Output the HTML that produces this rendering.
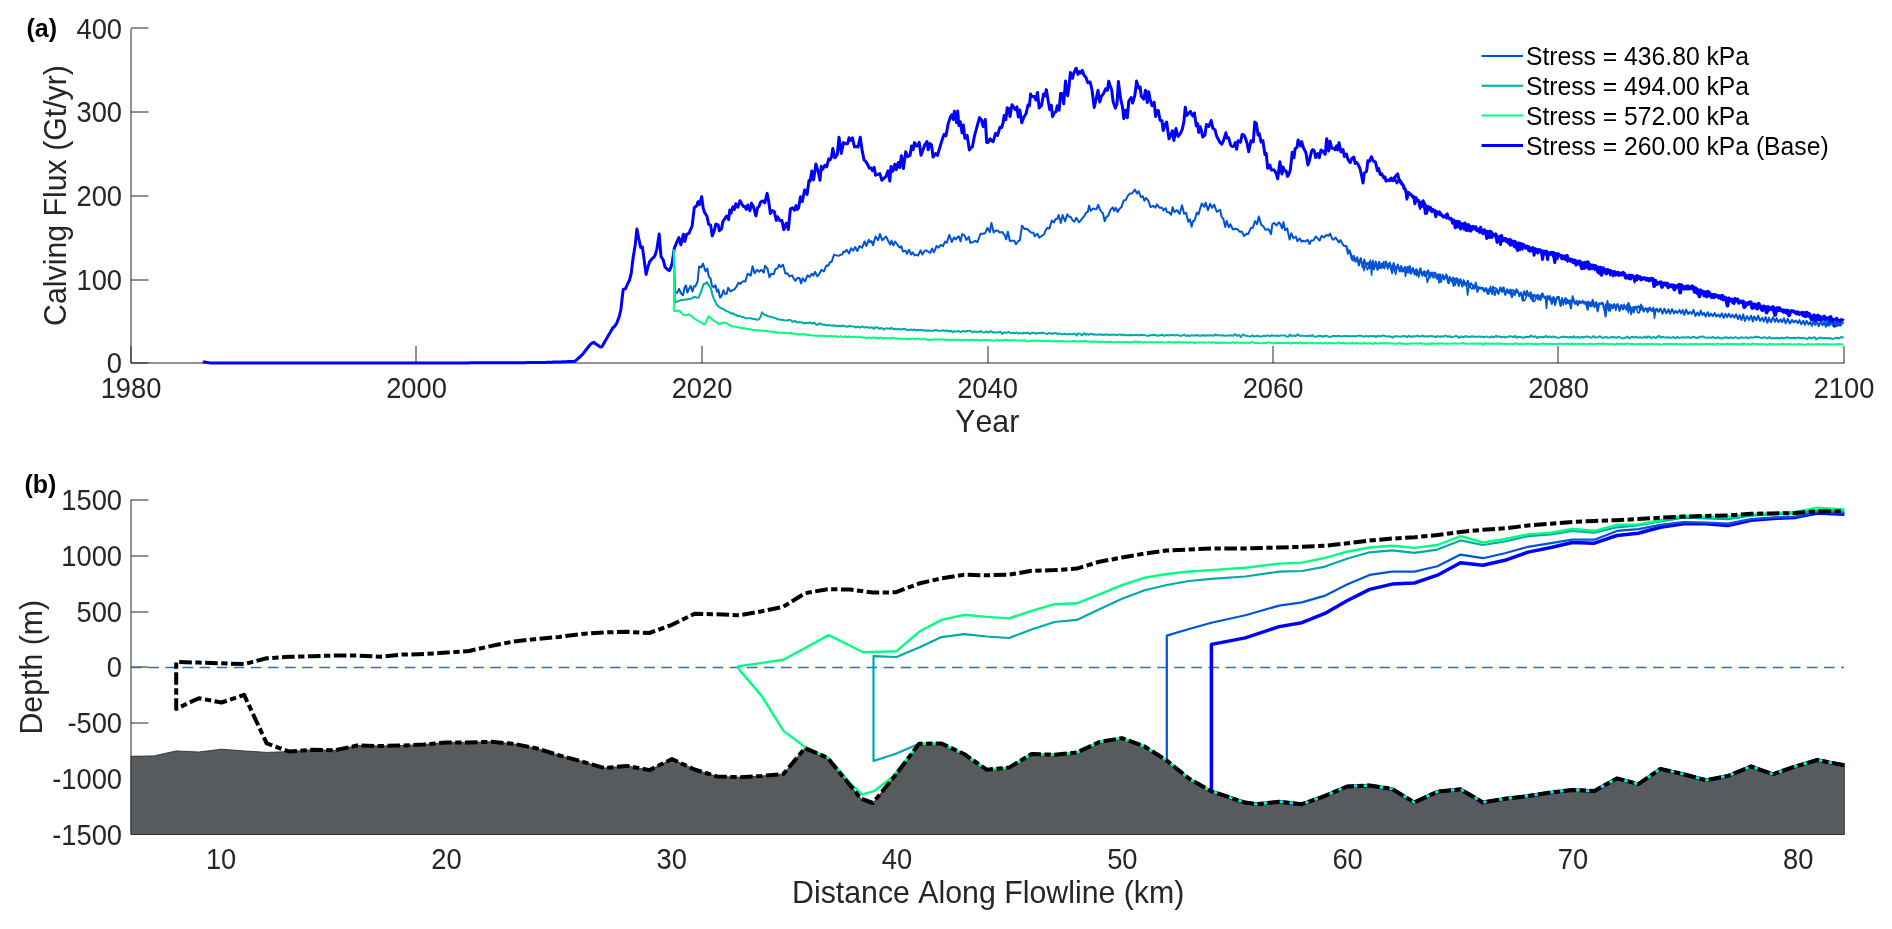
<!DOCTYPE html>
<html><head><meta charset="utf-8"><title>Calving flux figure</title>
<style>html,body{margin:0;padding:0;background:#fff;}svg{display:block;will-change:transform;}</style>
</head><body>
<svg width="1892" height="929" viewBox="0 0 1892 929">
<rect width="1892" height="929" fill="#ffffff"/>
<g stroke="#262626" stroke-width="1" fill="none">
<path d="M131 363V28.5"/>
<path d="M131 363H1844.5"/>
<path d="M131 363H148.5"/>
<path d="M131 280H148.5"/>
<path d="M131 196H148.5"/>
<path d="M131 112H148.5"/>
<path d="M131 28H148.5"/>
<path d="M131 363V346"/>
<path d="M416 363V346"/>
<path d="M702 363V346"/>
<path d="M988 363V346"/>
<path d="M1273 363V346"/>
<path d="M1558 363V346"/>
<path d="M1844 363V346"/>
</g>
<path d="M202.7 361.9L204.7 362.1L207.2 362.4L209.1 362.7L211.1 362.9L213.2 363L214.7 363L216.7 363L218.8 363L221.1 363L222.5 363L224.2 363L225.6 363L228 363L230.2 363L231.6 363L234.1 363L236.7 363L238.8 363L240.9 363L242.4 363L243.8 363L245.7 363L247.1 363L248.7 363L250.3 363L251.6 363L253.5 363L255.4 363L257.8 363L259.8 363L261.9 363L263.9 363L266 363L267.9 363L269.6 363L272.2 363L274.8 363L277.2 363L279.4 363L281.1 363L282.7 363L284.4 363L285.8 363L288 363L289.9 363L292.3 363L294.1 363L296.6 363L299 363L300.3 363L301.9 363L304.4 363L306.3 363.1L308.9 363.1L310.7 363.1L312.1 363.1L314.2 363.1L316.5 363.1L318.2 363.1L319.6 363.1L321.3 363.1L323.9 363.1L326.1 363.1L327.6 363.1L329.2 363.1L330.6 363.1L332 363.1L334.4 363.1L335.9 363.1L337.9 363.1L339.8 363.1L341.3 363.1L343.6 363.1L345.1 363.1L347.2 363.1L348.7 363.1L350.5 363.1L352.1 363.1L353.7 363.1L356.3 363.1L358.6 363.1L360.3 363.1L362.8 363.1L364.4 363.1L366.2 363.1L368.6 363.1L370.7 363.1L372.1 363.1L374.7 363.1L376.3 363.1L377.9 363.1L380.2 363.1L382 363.1L383.7 363.1L385.1 363.1L386.5 363.1L388.5 363.1L390.1 363.1L392.2 363.1L394 363.1L395.9 363.1L398.4 363.1L400.4 363.1L402.4 363.1L404.8 363.1L406.4 363.1L407.9 363.1L410.4 363.1L412.7 363.1L414.4 363L415.9 363L418.2 363L420.7 363L422.2 363L424.8 363L427.2 363L429.3 363L431.2 363L432.6 363L433.9 363L436.5 363L438.1 363L440.3 363L442 363L444.3 362.9L446.4 362.9L448.1 362.9L449.6 362.9L451.8 362.9L453.2 362.9L454.8 362.9L456.9 362.9L459.3 362.9L461.4 362.9L463 362.9L465.5 362.9L467.1 362.9L468.4 362.9L470.1 362.8L471.9 362.8L473.3 362.8L474.8 362.8L476.6 362.8L478.7 362.8L480.1 362.8L481.9 362.8L484.4 362.8L486.9 362.8L489.1 362.8L491.3 362.8L493.4 362.8L494.8 362.8L496.2 362.8L497.5 362.8L500 362.7L502.2 362.7L504.8 362.7L506.1 362.7L508.2 362.7L510.1 362.7L512.4 362.7L514.1 362.7L516.7 362.7L518.1 362.7L520.1 362.7L522.4 362.7L524.8 362.7L527.1 362.6L529.3 362.6L531.6 362.6L534.1 362.6L535.9 362.6L538.1 362.6L540.5 362.6L543 362.5L544.8 362.4L547.2 362.3L549.6 362.3L551.6 362.2L553.7 362.1L555.5 362.1L557.6 362L559.7 361.9L561.1 361.9L563.2 361.8L565.8 361.7L568.2 361.6L570.5 361.5L572.3 361.5L574.6 361.4L576.6 359.8L578.5 358.1L580.9 356L582.3 354.6L584.6 351.7L585.9 350L588 347.3L589.9 345L591.5 343.4L593.7 342.2L595.7 343.7L597.8 345.2L600.3 347L601.9 346.8L603.2 344.5L604.9 341.6L607.1 337.8L608.6 335.1L610.2 332.5L612.6 328.2L614.8 326.1L616.7 323.3L619.1 317L620.8 310L623.2 289.4L625.6 288.7L627.1 284.9L629.5 280.2L631.2 273.4L633.1 257.7L635.2 245.3L636.9 229L638.3 236.3L640.7 247.5L642.4 247.1L643.7 256.6L646.1 274.4L647.6 268.1L649.7 261.5L652.1 258.7L654 257.1L655.3 254.7L656.9 249.1L659.2 234.1L661 256.5L663.4 260.3L664.9 266.7L667 269.1L669.5 270.6L672 264.3L674.2 248.7L676.4 243.1L678.9 237.6L680.9 244.8L683.4 234.2L684.8 241.4L686.7 234.1L689 233.3L690.8 229L692.1 226L694.3 207.6L696.6 206L698 201.7L699.5 204.7L701.7 196.6L703.2 208.1L704.5 212.4L706.9 216L708.7 224.5L710.6 224.9L712.2 235.9L714 231.6L715.8 224.1L718.2 225L719.4 230.7L721.6 228.7L722.9 221.5L725.2 218.2L726.6 216.1L728.6 219.6L729.8 210L731.1 213.2L732.9 206.8L734.5 209.5L735.8 203.8L737.8 207.3L740 200.7L742 204.3L743.5 206.5L744.9 206.5L746.3 209.4L747.8 205L749.9 210.7L751.5 203.1L753.5 206.8L755.9 215.9L757.6 207.4L759 206.5L760.8 201.8L762.6 200.9L764.8 202.8L767.1 193.4L768.8 202.1L770.4 213.5L772.2 210.6L774.2 211.4L776.3 220.4L777.7 216.9L779.9 220.8L781.9 220.5L783.8 229.6L786.2 223.2L788.3 229.5L790.4 209L792.4 207.7L794.5 210.2L796.1 205.6L797.2 209.5L798.6 208L800.5 196.7L802.3 201.5L804.7 189.9L807.1 194.4L809 180.4L810.2 181.1L811.8 170.9L813.6 179.9L815.9 164.1L818.1 171.2L820 180.2L821.3 166.3L822.6 169.3L824.9 165.3L826.7 166.8L828.7 158.9L830.1 159.9L831.5 157L832.8 148.6L834.9 157.8L837.3 154.5L839 137.2L841.3 153.4L843.4 142.6L845.7 143.8L847.7 143.7L849 137.8L850.7 140.3L852.4 137.8L854.5 146.8L856.9 146.4L858.1 147L860.3 137.2L862.3 151.6L864.1 160.1L865.5 161.1L867.8 164.8L869.3 168.2L871.2 168L872.4 170.7L874.2 167.4L875.6 175.2L877.7 174.4L879.8 173.6L881.9 180.3L884.1 178.1L886 176.3L888.1 170.9L889.8 181.1L891 166.6L892.8 171.3L894.9 164.3L896.3 169.7L898.3 162.5L899.8 167.5L901.4 155.7L903.4 168.6L905.7 151.8L907.8 156.7L910.1 155.3L911.5 146.1L913.2 149.6L914.5 142.6L916.7 146.2L918 145L919.2 142.3L921 155.3L923.1 149.4L924.9 144.6L927 141.5L928.2 149.7L930.1 143.6L931.5 144.9L933.1 157.1L935.5 153.6L937.5 155.4L939.8 147.5L942 140.3L944.2 134.3L946 135.8L948.1 124.1L950.2 117.6L951.8 114.8L953.3 119.5L954.4 111.3L956.6 122.6L957.7 111L958.9 125.6L960.2 121.6L962.1 133.1L963.4 125.1L964.9 138.3L967.1 135.3L969.4 149.9L971.2 147.3L972.4 146.8L974.5 135.7L976 130.4L977.9 123.4L979.5 117.6L981.5 119.9L983.1 126.5L985.3 119.5L986.7 142.4L988 142.6L990.2 138.7L991.4 140.6L993.2 141.6L995.5 133.4L997.6 135.4L999.9 127.3L1001.7 127.5L1003 123.3L1004.2 115.6L1005.9 119.7L1007.2 107.8L1008.9 108.6L1010 116.6L1012 104.7L1013.1 106.4L1015.3 109.6L1016.9 106.9L1018.3 117L1019.8 109.9L1021.8 122.8L1023.9 117L1026 113.8L1028 105.1L1029.4 105.8L1030.6 93.9L1031.9 96.6L1034.2 96.4L1035.9 100L1037.5 92.4L1039.2 108L1041.6 105.2L1043.5 93.9L1045.1 95.8L1046.3 89.6L1048.5 102.7L1049.8 109.7L1051.3 105.2L1052.6 116.7L1054.6 112.3L1056 111.8L1057.2 105.8L1059.1 110.1L1060.6 93.5L1061.9 93.6L1063.7 103.8L1065.5 81L1067.7 95.8L1068.9 87.5L1070.4 72.5L1072.5 78.3L1073.7 73.3L1076.1 68.2L1078 74.4L1079.6 71.5L1081 73.1L1082.3 70.3L1084.1 75.5L1085.9 77.2L1087.9 82.8L1090.2 82L1092.1 90.5L1094.2 107.5L1096.4 97.8L1098 90.2L1099.8 102.1L1101.5 96.2L1103.5 93.6L1105.6 88.9L1107.4 90.3L1108.7 81.2L1109.9 85.1L1111.7 90.1L1113.1 101.5L1115.3 108.1L1117 103.8L1118.4 81.5L1119.6 91.3L1120.9 100.4L1122.3 105.9L1123.8 118.6L1125.4 110.2L1127.3 117.8L1128.8 101L1131.1 97.6L1132.6 103L1134.9 95.2L1136.6 81.1L1138.8 88.1L1140.2 87L1141.3 96.4L1143.6 99.1L1145.6 90.2L1147.3 102.5L1148.7 91.7L1150 98.8L1152 105.7L1154.2 102.2L1155.6 116.6L1157.1 111L1158.3 110.5L1160.1 120.2L1162 120.7L1163.2 130.6L1165.3 124.4L1166.6 122L1169 138.7L1170.6 135.8L1172.4 130.7L1173.9 140.5L1176 128.5L1178 136.5L1180.4 133.5L1182.3 129.1L1183.9 121.6L1185.3 107.2L1186.7 115.5L1188.6 113.4L1190.4 111.4L1191.6 114.2L1193.2 116.2L1194.4 113L1196.3 125.9L1197.6 123.6L1198.7 132.4L1200.2 126.7L1201.4 130.5L1202.7 137L1204.9 135.2L1206.4 124.4L1208.8 126.5L1211.2 120.5L1212.9 128.4L1215.1 130L1216.7 136.5L1217.9 138.5L1220 142.5L1221.8 144.2L1223.5 140.6L1225.9 132.8L1227 138.1L1228.6 137.7L1230.8 145.3L1232.4 146.6L1234 146.1L1235.3 142.6L1236.6 149.3L1238.1 140.8L1240.5 142.3L1242.1 134.5L1244.1 135.2L1245.5 138.3L1247.1 143.2L1248.7 151.8L1251 140.7L1253.3 141.9L1254.8 122.1L1256.3 123.2L1258.1 135L1259.2 133.4L1261.1 142.1L1262.9 140.6L1264.9 154.5L1266.2 153.4L1267.7 168.3L1269.9 165.2L1271.4 170L1272.5 170.1L1274.3 170.1L1276.3 173.8L1277.7 178.9L1279.9 161.8L1281.9 173.9L1283 167L1284.6 170.9L1286.2 171.1L1287.5 176.4L1289 173.9L1290.3 170L1292.3 152.2L1294 157.8L1295.1 148.8L1297 147.4L1298.1 140L1300.4 146L1301.7 141.6L1303.6 148.3L1305.9 152.5L1307.9 164.9L1309.3 161.2L1311.6 150.9L1312.8 149.6L1314.3 150.8L1315.7 157.6L1317.7 153.6L1319.3 157.6L1321 149.9L1322.9 151.3L1325.2 154.4L1326.7 138.7L1328.7 151.1L1330 141.3L1331.7 148.2L1333.6 148.3L1335 149.7L1336.6 145.9L1337.8 150L1339 142.8L1341 152L1343 149.5L1344.4 156.5L1346.3 154L1348.2 160L1350.2 162.7L1351.9 158.4L1353.9 157.1L1355.2 163.4L1356.5 162.3L1358.2 164.7L1360.1 168.8L1361.9 177.2L1363 183L1364.3 173L1366.5 171.6L1367.9 160.8L1369.4 161.3L1371.4 156.7L1373.2 161L1375.4 161.9L1377.4 170.7L1378.6 168.3L1380.3 174.5L1381.7 173.7L1383.5 177.6L1384.9 176.8L1386 181.1L1388.1 179.9L1389.7 180.6L1391.1 178.1L1393.1 180.6L1394.2 177.8L1395.6 176.2L1397.7 173.8L1399.6 182.1L1400.7 181.2L1401.9 184.5L1403 184.5L1404.5 188.3L1405.8 190.3L1407 198.4L1408.4 192.5L1409.9 193.7L1411.2 194.8L1412.5 197L1413.7 196.6L1414.9 203.8L1416.1 197.6L1417.1 200.8L1418.5 200.4L1419.8 206.8L1420.9 202.2L1421.9 206.4L1423.1 200.7L1424.2 203.2L1425.3 213.4L1426.6 213.2L1427.7 207L1428.8 209.9L1430.3 207.4L1431.8 211.8L1433.1 209.6L1434.4 210.7L1435.8 216.6L1436.9 211.7L1438.2 214L1439.4 211.9L1440.7 215.1L1442 215.1L1443.3 217.2L1444.6 216.2L1445.9 215.6L1447.1 213.8L1448.2 217.2L1449.6 218.9L1451.1 218.4L1452.6 223.2L1454 220L1455.2 227.8L1456.7 221.4L1457.7 226.9L1459.1 221.5L1460.5 229L1461.8 224.1L1463 223.7L1464 229.2L1465.1 223L1466.3 230.4L1467.3 230.3L1468.4 224.5L1469.5 230.7L1470.7 226.5L1472 229.6L1473.3 226.4L1474.7 229L1475.7 226.7L1476.9 230.7L1478.4 229L1479.6 232.4L1480.7 227.1L1481.9 232.5L1483.1 233.7L1484.2 229.8L1485.4 231L1486.7 238.4L1488.2 231.5L1489.4 237.5L1490.6 231.1L1491.8 237.6L1493.1 233.8L1494.5 235.3L1495.8 233.9L1497 242.4L1498.1 239.8L1499.3 236.7L1500.6 244.4L1501.6 235.5L1502.9 240.7L1504.2 238.4L1505.7 238.5L1507.1 239.9L1508.4 243.3L1509.6 239.3L1510.8 240.3L1511.8 245L1513.2 241.4L1514.5 246.8L1515.6 241.8L1516.7 248.6L1517.7 250.4L1518.7 243L1520 249.6L1521.1 243.5L1522.2 245.6L1523.5 244.3L1524.8 246.5L1526 246.2L1527.2 248.1L1528.7 246.7L1530.1 251.2L1531.6 250.5L1532.8 247.5L1534.1 255.2L1535.2 249.1L1536.4 249.3L1537.7 253L1538.7 249.5L1539.8 250L1541.1 250.3L1542.6 259.4L1543.8 251L1545.2 253.9L1546.4 251.1L1547.6 259.6L1548.6 252.6L1549.9 253.4L1551.1 252.3L1552.3 253L1553.4 252.4L1554.8 262.6L1556 253.5L1557.2 258.6L1558.4 253.7L1559.6 256.6" fill="none" stroke="#0000ff" stroke-width="3" stroke-linejoin="round"/>
<path d="M1559.6 256.6L1560.7 255.7L1562.1 258.5L1563.3 256.3L1564.3 256.7L1565.5 259.1L1566.9 255.8L1567.9 259.9L1569.2 259.7L1570.6 259.5L1571.9 259.8L1573.3 262.3L1574.7 260.5L1576.1 264.3L1577.3 261.4L1578.7 263.6L1579.8 261.4L1580.8 265.1L1582 268.3L1583.1 263L1584.3 268L1585.6 262.7L1586.8 266.8L1588 262.3L1589.2 268.6L1590.3 265L1591.4 267.7L1592.7 265.6L1593.9 267.7L1595.2 265.9L1596.7 268.5L1597.8 267.7L1599.1 272.9L1600.3 267.7L1601.5 274.8L1603 268.2L1604.2 270.3L1605.4 270.1L1606.4 273.5L1607.6 269.9L1609 271L1610.4 270.9L1611.5 273.1L1612.9 272.1L1614.4 271.9L1615.8 274.5L1617 273.1L1618.1 272.7L1619.4 274.7L1620.4 273.4L1621.6 274.6L1623 272.8L1624.4 273.8L1625.8 277.7L1627.1 276.3L1628.2 277.7L1629.3 275.5L1630.5 278.5L1632 275.7L1633.1 276.8L1634.2 277.2L1635.6 278L1636.9 276.1L1638.3 277.7L1639.7 276.9L1641.2 279.4L1642.6 278.2L1643.9 278.6L1645.1 278.1L1646.5 279.7L1647.7 278.7L1649.2 280.5L1650.3 279.1L1651.7 278.6L1653.2 279.4L1654.2 286.1L1655.5 280.8L1657 284L1658.2 283L1659.7 282.7L1660.7 282.3L1662 287L1663.3 283.3L1664.7 283.5L1666.1 285L1667.2 283.5L1668.3 287.3L1669.6 285.4L1670.7 285.1L1671.9 286.4L1673.3 285.2L1674.4 289.5L1675.5 287.2L1676.7 285.9L1678 287.2L1679.1 284.8L1680.2 292.7L1681.4 285.1L1682.8 287.2L1684.2 288.6L1685.4 286.7L1686.7 288.6L1687.9 286.3L1689.1 288.6L1690.6 288.2L1692.1 286.3L1693.2 287.2L1694.7 291.9L1695.8 288.2L1697.2 293.1L1698.4 290.3L1699.5 296.3L1700.6 290.3L1701.7 292.4L1703 291.7L1704.4 295.6L1705.6 292.1L1707 296.5L1708.1 291.9L1709.5 293.1L1710.7 296L1711.8 297.2L1713.3 294.8L1714.3 297.3L1715.4 295L1716.5 296.1L1717.8 295.8L1718.8 297.4L1719.8 296.3L1721 298.4L1722.2 295.7L1723.4 299.5L1724.6 297.5L1726.1 298.4L1727.5 305.7L1728.7 298.4L1730.1 300.1L1731.5 299.5L1732.6 302.1L1733.8 303L1735.1 298.9L1736.2 300.2L1737.5 299.4L1738.8 302.9L1740.3 301.5L1741.7 302.1L1743.1 301.5L1744.3 307.1L1745.6 305.4L1746.7 303.2L1748 304.1L1749.4 302.5L1750.9 302.5L1752.3 308.1L1753.7 304.6L1754.8 304.4L1755.8 307.6L1757.1 308.6L1758.6 303.7L1759.6 305.3L1761.1 308.2L1762.4 310.2L1763.7 306.4L1765.2 307.4L1766.6 312.6L1767.9 306.9L1769.1 309.7L1770.5 307.9L1771.8 308.9L1773 307L1774.1 311.2L1775.2 314.9L1776.7 308.1L1778.2 310.3L1779.3 308.1L1780.4 309.7L1781.6 310.7L1782.7 310.2L1783.8 311.8L1785 310.5L1786.5 312.8L1787.6 310.6L1789.1 315.3L1790.5 311.4L1791.8 311.1L1793.1 311.1L1794.3 312.1L1795.4 312.2L1796.5 313.5L1797.9 312.2L1799.3 314L1800.5 313.4L1802 312.8L1803.3 315.3L1804.4 313L1805.6 316.3L1806.9 312.6L1808 315.6L1809.2 314.1L1810.4 317L1811.9 319.4L1813.1 316.2L1814.1 315.3L1815.4 320.9L1816.6 317L1817.9 315.4L1819.1 319.6L1820.4 317L1821.6 319.9L1823 317.4L1824.2 316.4L1825.4 319.4L1826.8 318.2L1828.1 324.2L1829.3 318.1L1830.6 317.1L1831.8 322.2L1833.2 319.7L1834.5 325.7L1835.6 324L1836.6 318.6L1837.8 324.4L1839.1 320.8L1840.3 324.1L1841.6 320L1842.9 320.5L1843.4 321" fill="none" stroke="#0000ff" stroke-width="3.8" stroke-linejoin="round"/>
<path d="M673.8 249.5L674.8 292.1L677 292.9L679.1 288.9L680.8 293L683 295.2L684.5 287.8L686 285.5L687.4 292.5L689.1 288.7L690.5 285.9L692.5 291.5L693.9 286.2L695.4 286.4L697.6 281.5L699.1 266.5L701.2 267.3L703 263.6L705.5 271.2L707.3 268.5L708.8 276.8L710.5 278.2L711.9 285.5L713.7 287.4L715.5 285.2L717 291.7L718.3 289.5L720.1 297.7L721.6 295.9L723.5 290.4L725.1 294.2L726.8 293.6L728.1 287.7L730.5 291.4L731.8 290.6L734.4 289.4L736.1 287.2L738.5 282.7L740.4 283.9L742 281.9L743.7 281.2L745.4 281.4L747.6 273.7L749.3 274.6L750.7 275.7L752.6 266.3L754.6 273.3L757.1 269.8L759.2 271.8L761.5 269.8L763.8 272.7L765.1 265.8L767.5 268.7L769.5 277.3L771.3 273.7L773.8 274.3L775.3 269.3L777.5 268.4L779.2 264.7L780.7 267L783 264.8L785.5 273.7L787.4 273.2L789.5 276.4L792.1 275.3L793.8 278.7L795.4 280.8L797.4 278.1L799.5 278.1L801.1 283.4L802.7 278.2L805 281.5L807.5 275.4L809.7 277L811.7 273.8L813.4 275.6L815 271.8L817.3 276.4L819.2 274.1L821.6 269.8L824 271.5L826.3 265.4L828.2 265.8L830 262.1L831.5 262.1L834.1 254.7L836.5 255.4L838.3 255.9L840.7 254.8L842.3 254.3L843.6 251.5L845.1 251.9L846.7 249.8L849.1 253.4L851.1 248.3L853.1 250.7L855.2 247L857.3 251L859.5 246L862 247.8L864.6 241.5L866.4 245.9L868.8 239.8L870.2 242.3L871.5 241L873 245.2L875.5 236.4L878.1 240.2L880 234L882.3 240.3L883.9 238.7L886 236.4L888.5 241.5L890.2 244.6L891.5 240.6L893.4 245.4L895.1 241.5L897.6 244.8L899.7 247.7L901.5 246.4L902.9 251.5L905.5 250.7L906.9 253.8L909 249.7L911.1 254.5L912.8 252.5L914.7 255.4L916.2 254.9L918 255.7L920.5 250.3L922.4 254.5L924.5 250.9L926.1 250.3L928.7 252L930.4 252.8L932 248.5L934 252.2L936.6 246L938.5 247.6L940.7 245L943 246.2L945.1 241.6L946.8 242.8L949.3 234.7L951.8 242L954.1 237.4L956 239.5L957.4 237.3L958.8 236.3L960.6 241.4L962.1 234.1L964.5 235.3L966.3 240L968.8 236.9L970.4 242.9L972.9 242.2L975.3 240.8L977.4 242.2L979.2 237.5L980.6 233.7L983 233.7L985 233.3L987.5 227.9L989.8 232.1L991.4 223L993.7 232.6L995.9 230.4L998.1 230.7L999.5 232.5L1002.1 232L1004.6 235.1L1006.2 239.3L1007.8 231.8L1009.9 241L1012.2 240.8L1014.5 240.8L1016 244.3L1018.1 241.2L1019.9 240.3L1022 225.7L1024.4 228.9L1026.9 228.7L1028.6 230.2L1030.8 232.4L1033.3 232.7L1034.8 236.3L1037.4 233.7L1039.3 237.7L1041.8 236L1044 234.5L1045.4 230.9L1047.3 227.7L1049.5 228.6L1051.8 220.5L1054 222.5L1055.5 219.1L1057.1 219L1058.6 215L1060.8 223.1L1062.6 215L1065.1 221.3L1067.3 214.2L1069 216.7L1070.5 216.8L1073 220.8L1074.4 221.6L1076.4 217.8L1079 222.3L1080.6 220.6L1082.3 218.4L1083.8 216.7L1086.3 212.5L1087.7 212.1L1089.1 205.6L1090.7 210.9L1093.1 208.4L1094.8 209.2L1096.7 208.9L1098.1 204.7L1099.8 209.2L1101.5 211.8L1103 213.5L1104.7 221.2L1106.1 217.5L1108.4 215.3L1110.3 210.1L1112.7 207.3L1114.2 210.9L1115.8 207.8L1117.7 212L1119.3 209.1L1121.5 207.1L1123.7 200.4L1125.9 199.9L1127.8 195.9L1130.1 193.4L1132.3 193.2L1134.8 189.5L1137 193.5L1138.5 191.2L1141 197.1L1142.9 196.2L1144.4 200.8L1146 197.9L1148.3 200.6L1150.6 207.1L1153.2 205.9L1155.4 207.6L1156.9 204.3L1159.4 207.7L1161.7 207.5L1163.6 210.4L1165.5 208.2L1167 212.1L1168.9 212.3L1171.1 214.7L1172.6 207.3L1174.5 212.1L1177.1 210.1L1179.6 214L1182 205.3L1184.1 213.8L1186.1 212.8L1188.2 221.8L1190 219.4L1191.6 226.7L1193 221.1L1194.5 220.5L1196.9 212.5L1198.5 214.4L1200.1 208.6L1201.8 203.6L1204.3 206.8L1205.6 202.6L1208 210.1L1210.2 203.9L1212.1 207.8L1214.3 204.7L1216.7 211.8L1218.7 210.6L1220.1 209.8L1221.6 216.8L1223.4 218.9L1225.2 226.9L1226.7 220.9L1228.8 227.4L1230.4 224.2L1232.9 229.5L1235.2 228.8L1237.5 229.2L1239.5 231.7L1241.8 231.5L1244.2 236.1L1246.4 233.8L1248.3 233.9L1250.8 228.1L1252.8 227.7L1255.1 221.1L1257.1 224.2L1258.8 216.5L1261.3 224.9L1263.3 226.3L1265.6 229.9L1267.7 229.2L1269.2 230L1271 234.2L1272.4 224L1274.2 222.9L1276.5 225.5L1278.8 222.4L1280.3 224L1282.1 228.4L1283.5 222.2L1285.1 230.2L1287.2 228.4L1289.6 239.5L1291.3 233.2L1293.4 238.1L1295.9 236.5L1297.4 241.2L1299.9 238.4L1301.6 241.7L1303.1 240.7L1305.4 241.6L1307.5 239.7L1309.6 244L1311 240.6L1313.4 240.4L1315.7 236.6L1317.4 238.1L1319.6 240.5L1321.7 235.9L1324.2 237.4L1326.3 235L1328.4 235.9L1330.1 233.6L1332.5 239.4L1334 239.4L1335.4 237.5L1337 239.4L1338.8 242.5L1340.4 240L1342.9 244.8L1344.4 246.1L1346.3 246.1L1347.9 253.8L1349.8 250.7L1351.8 259.5L1353.8 255.9L1355.6 261.8L1357.2 257.2L1358.9 265.6L1360.8 258.1L1362.7 267.5L1364.3 259.4L1366 265.5L1368 262.5L1369.6 268.4L1371.6 262.5L1373.7 269.1L1375.7 261.4L1377.7 269.9L1379.2 261.8L1381 268.3L1382.7 263.2L1384.4 268.4L1385.9 261.6L1387.7 268.7L1389.8 262.6L1391.7 269.5L1393.7 263.1L1395.8 270L1397.8 264.5L1399.7 271.5L1401.2 266L1403.1 271.3L1405 267L1407.1 272.5L1409 266.7L1411.1 273.7L1412.7 267.9L1414.6 274.4L1416.4 269.3L1418.4 275.2L1420.4 268.3L1422.3 275.8L1424.3 271.3L1426.1 276.3L1428.1 270.2L1429.8 277.8L1431.5 272.7L1433.5 277.8L1435.2 272.6L1437.2 278.7L1439.2 274.5L1441 281.9L1442.7 274.7L1444.2 279.5L1446.3 274.4L1448.1 282.8L1449.7 276.8L1451.5 281.2L1453.3 277.5L1455.2 284.9L1456.8 278.3L1458.8 286.1L1460.4 279.1L1462.3 286.6L1464.2 281.1L1466.3 286.2L1467.8 280.8L1469.3 286.8L1471.1 283.2L1472.7 285.5L1474.3 288.8L1475.8 282.6L1477.4 291.8L1479.3 287.2L1480.8 288L1482.5 287.7L1484.1 291.3L1485.8 288.1L1487.8 293.8L1489.4 288.9L1491.3 291.6L1493 286.8L1494.7 295.2L1496.6 289.1L1498.4 294L1500.3 288.9L1502.2 291.8L1503.7 287.5L1505.2 294.9L1507.2 289.2L1508.7 293.3L1510.3 289.6L1511.9 297.3L1513.8 290.8L1515.5 292.9L1517.4 291.5L1519.4 294L1521.1 292.5L1522.6 300.5L1524.1 291.2L1525.5 295.1L1527 290.7L1528.7 296L1530.7 292.2L1532.6 301L1534.2 294.6L1535.8 296.5L1537.7 294.7L1539.2 299.4L1540.8 295.8L1542.4 293.4L1544.4 297.8L1546.1 297.3L1547.9 298.4L1549.9 296.1L1551.8 303.9L1553.5 297.4L1555.1 305L1557 297.5L1558.7 296.7L1560.5 305.9L1562 299.6L1563.9 301.3L1565.6 298L1567.4 302.8L1569.2 300.9L1570.9 308.6L1572.6 296.2L1574.6 303.4L1576.1 301.8L1577.7 305.1L1579.3 301L1580.7 302.2L1582.7 302.1L1584.4 303.4L1585.8 302.2L1587.6 309.8L1589.1 302.3L1591.1 306.3L1592.7 299.7L1594.4 307.1L1595.9 302.4L1597.7 311.4L1599.2 303.6L1601 303.7L1602.6 303.1L1604.1 308.3L1605.6 316.6L1607.4 301.1L1608.9 310.7L1610.4 304.5L1612.3 307.3L1614.1 304.1L1615.7 306.9L1617.6 304L1619.5 310.9L1621.3 305L1622.9 309.5L1624.7 306.5L1626.5 309.7L1628.5 302.9L1630.5 309.6L1632 307.6L1633.8 312.4L1635.3 306.7L1636.9 307.6L1638.7 306.2L1640.6 310L1642.3 306.2L1643.8 311.2L1645.9 308.1L1647.6 312.2L1649.6 307.5L1651.3 310.4L1653.3 308.5L1654.9 311.9L1656.7 308.7L1658.4 311.9L1660.4 308.5L1662.5 313.6L1664.4 308.7L1666.4 313.3L1668.5 309.4L1670.1 313.7L1672.1 309.1L1674 313.4L1675.6 310.9L1677.4 312.9L1679.5 310.1L1681.1 313.3L1682.7 310.1L1684.3 314.9L1686.1 309.6L1688.1 314.2L1689.9 311.8L1691.8 313.9L1693.5 309.8L1695.4 316L1697.4 312.5L1699.2 315.4L1700.8 310.5L1702.4 315L1704 312.8L1705.7 316.6L1707.7 312.2L1709.3 316.3L1710.9 313.5L1712.8 316.1L1714.7 313.1L1716.3 316.5L1718.4 314.6L1720 316.9L1721.9 313.3L1723.7 317.8L1725.5 313.9L1727.2 317.2L1728.8 313.7L1730.8 317.3L1732.4 314.7L1734.4 317.6L1736 314.2L1738 319.2L1739.6 315.1L1741.4 320L1743.2 314.5L1744.9 321L1747 316.1L1749.1 319.9L1751.1 315.7L1752.8 321.4L1754.3 316.4L1756.4 320.4L1758.1 315.6L1760.1 320.9L1762.2 317.7L1763.8 321.5L1765.5 317L1767.4 322.7L1768.9 317.8L1771 322.2L1773 317.2L1775.1 321.9L1776.7 318.1L1778.5 322.2L1780.6 319.4L1782.2 322.2L1784 318.2L1785.7 323.4L1787.8 319L1789.9 323.5L1792 319.9L1793.8 322.4L1795.8 320.5L1797.9 323.1L1799.4 320.1L1801.3 324.3L1803.3 320.7L1804.9 324.9L1806.7 320.9L1808.6 324.4L1810.3 322.1L1811.9 325.9L1813.4 321.5L1815.2 324.8L1817.2 322.4L1818.7 326.3L1820.7 321.7L1822.6 325.3L1824.1 321.5L1825.8 326.7L1827.4 320.5L1829.1 325.8L1831 322.8L1833 325.4L1835 321.4L1836.7 326.2L1838.2 322.2L1840.2 325.7L1842.1 321.8L1843.4 323.6" fill="none" stroke="#0055d4" stroke-width="2" stroke-linejoin="round"/>
<path d="M1345 245.6L1346.5 246.5L1348.1 249.6L1349.5 251.8L1350.8 253.8L1352 256.1L1353.1 260.9L1354.6 259.4L1355.9 258.8L1357.1 258.9L1358.7 262.2L1360.3 259.4L1361.7 262.9L1362.9 262.8L1364.1 270.6L1365.7 263.1L1367.3 269.8L1368.6 267L1370.3 260.1L1371.6 275.3L1372.9 260.2L1374.1 269.5L1375.5 264L1377 268.8L1378.5 262.8L1379.7 268.2L1381.2 263.7L1382.3 267.6L1383.6 261.7L1385.2 263.1L1386.8 264.6L1388.3 263.7L1389.5 265.5L1390.7 268.5L1392.1 273.6L1393.3 265.8L1394.5 271.2L1395.8 274.3L1397.2 266.7L1398.8 267.4L1400.1 268.6L1401.6 271.7L1403.1 271L1404.4 267.9L1405.5 276.4L1407.2 266.9L1408.8 273L1410 265.9L1411.2 272.4L1412.4 269.1L1414 271.2L1415.1 269.7L1416.4 275.7L1417.6 270.6L1418.7 277.1L1420.3 271.7L1421.7 272.6L1423.3 272L1424.8 276.1L1425.9 271.5L1427.2 282.4L1428.6 278.6L1430 272.4L1431.7 275.9L1433.2 272.4L1434.7 273.8L1436.4 278.4L1437.6 274.3L1439 283L1440.1 274.1L1441.4 278.3L1442.6 275.4L1444.2 276.5L1445.7 277.8L1447.1 276L1448.8 283.5L1450.3 279.2L1451.9 278.8L1453.5 286.3L1455 278.4L1456.5 279.5L1458.1 279.3L1459.4 281.4L1460.6 280.3L1462.3 284L1463.6 279.9L1464.9 284.9L1466.4 283L1467.6 295.1L1469.3 283.8L1470.7 287.7L1472 289L1473.5 285.5L1474.7 286.6L1476.4 285.8L1478 287.3L1479.4 288.6L1480.8 288.4L1482.3 289.4L1483.6 288.1L1484.7 291.5L1486.3 288.4L1487.7 290.2L1488.9 293.9L1490.5 286.3L1492 294.3L1493.5 287.9L1494.7 287.8L1496.1 288.2L1497.4 291.4L1498.8 292L1500 287.2L1501.2 290.3L1502.3 287.6L1503.8 290.6L1505 294.2L1506.5 290.6L1507.9 292.4L1509 290.5L1510.5 294.3L1511.9 289.7L1513.5 290.2L1514.7 295.5L1516.3 289L1517.7 290.5L1519.3 296.5L1520.8 293.3L1522.4 298L1523.8 300.8L1525 299.8L1526.5 296.3L1527.9 293.6L1529.3 294.1L1530.6 298.5L1532.1 294.8L1533.6 301.6L1535 300.6L1536.4 295.7L1537.9 299.7L1539.4 296.2L1540.7 300.2L1542 296.2L1543.6 297.1L1545.2 296.5L1546.5 308.4L1547.6 295.5L1549.3 300L1550.5 297.2L1551.7 301.8L1553.3 296.7L1554.7 299.4L1556.3 298.8L1557.5 297.3L1559.1 298.2L1560.7 305.9L1562 297.7L1563.3 305.1L1564.5 299.5L1566.1 304.2L1567.6 299.5L1568.8 303.4L1569.9 300.1L1571.6 302L1572.7 299.7L1574.1 300.4L1575.4 303.9L1576.7 300.6L1578.2 304.6L1579.8 302.2L1581.2 303.3L1582.7 300.4L1584.1 303.7L1585.4 301.5L1586.5 305.8L1588.1 301.2L1589.3 305.9L1590.8 302.3L1592.4 305.8L1593.8 303.1L1595 305.6L1596.5 302.1L1597.8 306.9L1599.4 303.4L1600.8 304.1L1602 302.3L1603.2 304.2L1604.6 310.3L1605.9 304L1607.5 307.9L1608.7 303.8L1610.3 310.9L1611.6 304.5L1612.8 308.8L1614.4 304.9L1615.8 310.5L1617.1 304.6L1618.4 306.3L1620.1 306.2L1621.3 306.1L1622.6 307.2L1624 304.3L1625.4 307.8L1627 304.8L1628.4 312.5L1629.6 305.2L1631.1 314.5L1632.4 309.2L1633.7 306.7L1635 308.2L1636.3 307.3L1637.8 312.8L1639.4 312.6L1640.8 304.3L1642.3 307.6L1643.7 311.8L1644.9 308.8L1646.1 309.2L1647.6 308.6L1649 310.6L1650.4 308L1652 311.4L1653.3 307.3L1654.5 318.2L1655.8 309.4L1657.1 309.3L1658.4 311.4L1660 309.1L1660 310.3" fill="none" stroke="#0055d4" stroke-width="1.6" stroke-linejoin="round"/>
<path d="M1390 181.4L1391.2 180.5L1392.4 180.6L1393.7 181.1L1395 177.7L1396.6 183.6L1397.7 181.1L1399.2 179.1L1400.6 180.5L1402.2 183.4L1403.7 188.9L1405.4 189.2L1406.8 199.7L1408.4 193L1409.9 195.1L1411.5 194.6L1413 196.4L1414.3 199.8L1415.8 198.2L1417.1 200.9L1418.8 200.8L1420.2 209L1421.6 201.9L1422.7 203L1424 207.9L1425.4 204.2L1426.9 207L1428.2 206.1L1429.8 207.6L1431.1 207.8L1432.6 209.7L1434.1 211.2L1435.4 210.1L1437 212.6L1438.4 212.6L1439.7 214.6L1441 213.2L1442.7 216.5L1443.9 216.9L1445.1 215.3L1446.4 218.7L1447.9 217.9L1449.2 218.8L1450.3 217.8L1451.9 219.4L1453.3 219.7L1454.4 222.8L1455.6 221.4L1457 221.1L1458.1 227.1L1459.2 222L1460.9 222.8L1462.1 227.3L1463.7 227.1L1465.2 224.6L1466.8 224.5L1468.4 226.7L1469.6 225.3L1471 231.7L1472.6 228.2L1474.2 226.7L1475.6 228.5L1476.7 227.8L1477.9 230.4L1479.4 229.4L1480.8 229.5L1482.5 230.6L1484.1 231.5L1485.3 230.8L1487 230.7L1488.5 234.7L1490.2 234L1491.8 231.9L1493.1 234.2L1494.7 234.6L1495.8 238.1L1497.1 235.3L1498.5 240L1499.8 235.8L1501.4 237.3L1503.1 238.7L1504.3 238.5L1505.5 241.7L1507.2 242.3L1508.8 239.5L1509.9 245.7L1511.4 239.8L1512.9 243.8L1514.4 240.7L1515.6 244.1L1517 242.7L1518.2 246.3L1519.3 247.2L1520.8 244.2L1522.5 249.7L1523.8 244.9L1525.4 248.8L1527 245.5L1528.3 251L1529.8 246.9L1531.2 249.3L1532.8 247.4L1534 249.4L1535.2 248.3L1536.5 250.9L1537.7 249.8L1538.8 252.5L1540.3 249.7L1541.9 251.2L1543.6 251.2L1544.9 252.9L1546.1 251.4L1547.5 252.4L1549 252.7L1550.6 255.1L1551.8 253L1553.4 257.4L1554.7 254.1L1556.3 256.8L1557.5 254.4L1559.1 255.2L1560.5 255.5L1561.7 255.3L1563.3 257.8L1564.8 258.2L1566.2 256.7L1567.4 261.9L1568.8 258.5L1570.4 261.9L1571.6 259.3L1573.2 261.9L1574.7 260.1L1576 265.7L1577.4 261.4L1578.5 261.4L1579.8 262.6L1581.4 263L1582.8 263.4L1584 264L1585.6 266.6L1586.8 264.2L1588.1 267.9L1589.4 269.3L1590.8 265.8L1592 269.2L1593.3 266.6L1594.8 270.1L1596 266.1L1597.2 272.2L1598.4 266.4L1599.6 270.4L1601 268.4L1602.6 271.6L1604.1 269.7L1605.5 273.8L1606.7 270.5L1607.8 273.6L1608.9 271L1610.3 275.5L1611.5 271.2L1612.9 276.5L1614 272.1L1615.2 275.6L1616.8 272.4L1618.4 275.9L1619.6 273.2L1621.1 273.8L1622.7 274.9L1623.9 274.1L1625.5 275.2L1627 275.3L1628.6 276.1L1630.1 274.8L1631.8 276.9L1633 275.9L1634.6 282.6L1635.7 277.1L1637.1 280.6L1638.7 276.2L1640 278.2" fill="none" stroke="#0000ff" stroke-width="2" stroke-linejoin="round"/>
<path d="M673.8 249.5L674.8 302.2L677 301.5L679.2 300.9L680.7 300L682.9 300.2L684.6 299.5L687 299.5L688.5 298.9L690.8 298.8L693.4 297.3L695 297L697 297.7L698.8 297.4L701.2 291.4L703.8 283.8L705.2 283.9L707.1 282.1L708.7 285.2L710.8 288.1L712.4 294.6L714 299.1L716.5 304.2L718.8 306.7L721.1 308.3L723.2 308.9L725.7 310.8L727.3 311.4L728.7 311.9L730.8 313.5L732.9 313.3L734.6 314.8L736.2 314.8L737.6 316.2L739.6 315.8L741 316.6L742.3 316.9L743.7 317L745.1 318L746.9 318.2L748.9 318.2L750.8 318.2L752.2 318.9L754.7 318.8L757.1 319.9L759.1 319.3L760.7 316.6L762 312.3L764.1 314.7L766.4 315.1L768.2 316.3L770 316.6L772.4 317.5L774.1 317.6L775.9 318.3L778.3 319.5L779.8 319.5L781.5 319.9L782.8 319.7L785.2 320.6L787 320.5L788.5 320L790.5 319.9L792.4 321.9L794.9 320.9L796.3 322L798 322.5L799.7 322L802 322.4L804.2 323.5L806 322.8L808.4 323.2L809.9 322.3L812.5 323.5L814.4 322.7L815.7 324.3L817.3 324.9L819.7 323.3L821.6 324.3L823.5 324.8L825.3 324.6L826.9 325.7L828.4 324.8L830.5 325.6L832.5 325.8L834 325.2L836.6 326.2L839 325.8L840.4 326.3L842.9 325.5L844.5 326.3L845.8 326.3L847.4 326.9L849.6 325.8L851 326.2L853.5 326.4L855.8 327.5L857.9 326.5L859.9 327.7L862.1 326.4L864.5 327.4L866.9 327L869.4 327.9L871.9 327.2L874.1 328.9L875.5 327.2L877.8 327.6L879.7 328.9L881.1 327.9L882.6 328.7L884.2 329.6L885.9 328.2L887.3 328.6L888.7 328.5L890 328.9L891.4 327.8L893.5 329.2L895.7 328.7L897.1 329.2L899.1 329L901.3 329.5L903.1 329.1L905.2 328.7L906.8 330L908.3 329.9L910.9 329.5L912.6 330L914.5 329.6L916.3 330.5L917.9 329.9L920.4 330.1L921.8 329.9L923.6 330.7L925 330.3L927.4 330.7L929.2 330.5L931.5 330.8L933.6 330.8L935.9 330L937.9 330.4L939.2 331.1L941 330.7L942.8 330.2L944.9 331L946.9 330.4L949.1 331.5L951.1 330.7L952.7 332.2L954.1 331.2L956.4 331.4L958.7 331.1L960.7 332.1L962.9 330.9L964.8 331.7L967 331L968.9 330.7L970.3 330.7L972.3 332.2L974.3 331.5L976.6 331.8L978.5 332.1L980.9 331L982.5 332.2L984.4 332.6L986.7 331.4L988.7 332.6L990.9 331L992.9 332.5L995.2 332.3L997.2 332.5L998.5 332.3L1000.7 331.7L1002.2 334L1004.4 332.3L1006.3 332.9L1008.6 331.9L1010.5 333.1L1012.6 332.6L1014.9 333.3L1016.8 332.4L1018.4 333.7L1020.3 332.9L1022.7 333.6L1024 332.6L1025.6 333.3L1027.8 332.5L1029.7 334L1032.1 332.8L1034.3 332.8L1035.8 333.8L1038 333L1040.3 333L1042 332.8L1044.3 333.1L1046.9 334.1L1048.9 333L1050.6 333.3L1052.4 334L1054.2 333.2L1055.9 333.1L1057.8 334L1059.9 333.4L1062 334.4L1064.6 333.8L1066.9 334.4L1069.2 333.9L1071.7 334.3L1073.2 334.1L1074.8 333.4L1076.8 335.5L1078.2 333.4L1079.9 333.8L1082.1 335.2L1084.3 333.1L1085.7 334.8L1087.3 334L1089 334.8L1090.4 333.9L1091.9 333.7L1093.3 334.7L1094.7 334.3L1096.5 334.8L1098.7 334.6L1100.6 334.3L1102.5 335L1104.1 334.5L1105.6 334.7L1107.4 334.3L1109.2 335.3L1111 334.6L1112.6 334.8L1115.1 334.8L1117.3 335.1L1119.7 334.4L1121.3 335L1123.7 334.6L1125.2 335.2L1127.6 335.3L1129.4 335.3L1131 335L1132.5 335.3L1134.7 335.1L1136.7 334.7L1138.1 335.5L1140 335L1141.6 335.1L1144 334.9L1145.8 335.4L1148.4 336L1150.1 335L1151.9 335.3L1153.8 334.8L1156.2 335.3L1157.9 335.9L1159.8 335.3L1162 334.7L1164.4 335.9L1166.8 334.9L1168.5 335.5L1171 335L1172.8 335.1L1175.2 335.4L1177.8 334.8L1179.9 335.9L1182.4 335.4L1184.7 334.6L1186.1 336.1L1188.1 335.3L1189.7 336.2L1191 335.3L1192.4 335.4L1194.9 335.5L1197.2 335L1199.1 335.8L1201.5 335.7L1203.4 335L1204.9 335.8L1207.1 335.3L1209.6 335.5L1211.7 335.3L1213.8 335.8L1215.2 334.5L1216.7 335.2L1218.8 335.1L1220.3 335.6L1222.5 335.3L1224.6 335.7L1227.1 335.5L1229.2 335.6L1231.2 335.2L1233.1 335.9L1234.7 334.1L1237.1 335.9L1239.2 334.9L1240.9 337.1L1242.9 334.4L1244.9 335.7L1246.5 335.6L1248.3 336.3L1250.7 336.4L1252.4 335.3L1253.8 336.4L1256 336.1L1257.8 335.7L1260 336.7L1262.3 336.1L1264.2 335.7L1265.8 336L1268 335.4L1269.8 336.2L1272 335.3L1274.1 335.9L1276.6 335.6L1278.7 336L1280.7 335.6L1282.9 335.5L1285.1 335.6L1287.1 336.8L1288.5 336.6L1289.9 334.5L1291.5 335.9L1294.1 335.4L1295.7 336.1L1297.7 334.3L1300.3 336L1302.1 335.7L1303.5 335.8L1305.6 335.9L1307.6 336.3L1309.1 335.5L1310.8 336.2L1312.3 335.1L1313.9 336.4L1315.4 336.9L1317.4 336.2L1319.8 335.7L1321.2 335.9L1322.7 336.8L1325.2 335.8L1327.1 335.9L1328.9 336.7L1330.6 336.9L1332.5 336.1L1335.1 335.9L1336.5 336.3L1338.3 335.8L1340.4 336.2L1341.9 336.5L1344.3 335.9L1346.5 335.8L1347.8 336.5L1349.9 336.1L1351.5 336.2L1353.4 336.1L1355.7 336.6L1357.2 335.8L1359.8 335.7L1362.1 336.1L1364.6 336.7L1366.2 335.8L1368.2 336.7L1370.4 335.9L1373 336.3L1374.8 336L1376.2 337.2L1377.5 335.7L1379.4 336.2L1381 336.3L1383.4 335.4L1384.7 335.9L1386.7 336.4L1388.6 336.2L1390.7 336.6L1392.6 337.7L1394.8 336.2L1396.5 336.3L1398.8 336.6L1400.8 336.7L1402.3 336.2L1404.4 335.9L1406.8 337.1L1408.6 335.7L1411.2 337.1L1412.9 336.1L1414.6 336.7L1416.9 335.7L1419 336.3L1421.2 336.4L1422.5 335.5L1423.8 336.5L1426.1 336.2L1428.3 336.6L1430.3 336L1432.1 336.2L1433.9 336.6L1436 337L1438.2 336L1440 337L1441.5 336.2L1443.2 336.7L1445.5 335.5L1447.5 336.7L1449.6 336.2L1451.6 337.4L1454 336.6L1455.9 336L1457.4 336.4L1459.5 337.8L1461.2 336.3L1463.3 337.3L1465 336.2L1467.4 336.6L1469.7 337.1L1472.1 336.3L1474.6 336.8L1477.2 336.8L1479 336.4L1480.7 337L1482.5 336.6L1484 337.2L1486.4 336.4L1487.9 337L1489.9 337.4L1492 336.4L1493.6 337.4L1496.1 335.9L1497.5 336.9L1499.4 336.3L1501.3 337.4L1503.6 336.6L1505.5 337.5L1507.7 336.9L1509.9 336.2L1511.9 336.5L1513.7 337.2L1515.3 335.9L1516.7 337.7L1519 336.8L1521.4 337.3L1523.5 337.8L1525.5 337L1527.6 336.8L1529.2 337.3L1531.1 335.5L1533 337.1L1535.2 336.2L1537.3 337.9L1538.8 336.9L1540.5 337.4L1542.1 336.6L1543.6 337.5L1546 335.9L1547.4 337.3L1548.9 336.5L1551.3 337.4L1553.4 336.5L1555.6 337.1L1557.8 337.8L1560 337.4L1561.9 336.9L1563.6 336.6L1565.4 337.1L1566.8 337L1568.3 337.5L1570.1 337L1572.4 337.4L1573.8 336.2L1575.1 337.6L1577.6 337L1579.8 337.9L1581.5 336.7L1583.8 337.5L1585.2 336.8L1587.5 336.5L1589.6 337.3L1591.8 337.8L1593.7 336.1L1595.2 337.6L1597.7 337.2L1600 336.3L1601.9 337.7L1603.4 337.7L1605.8 336.9L1607.8 337.7L1610.3 337.6L1611.8 336.9L1614.2 337.2L1616.8 337.7L1619.2 336.7L1621.5 338.3L1623.7 338.2L1626 337.5L1627.4 336.5L1629.6 338.4L1631.8 336.7L1634.3 337.5L1636.1 336.8L1638.5 337.7L1640.2 337.2L1642.6 337.8L1644.8 336.6L1646.7 337.9L1648 336.5L1649.7 336.7L1651.3 338.3L1653.4 336.8L1655.7 338.1L1657.1 337.1L1658.9 335.8L1660.8 337.7L1662.2 336.7L1664.2 337.3L1665.9 337.6L1668.3 337.3L1670.3 337.8L1671.9 337.7L1673.6 337L1675.4 338.3L1677.3 336.7L1678.9 338L1681.2 337.4L1682.8 337.5L1684.3 337.2L1686.3 337.5L1688.7 337L1690.5 338.1L1692.7 336.8L1694.6 337.3L1696.8 338L1699.2 337.2L1700.7 336.8L1702.9 336.5L1704.9 337.4L1707.3 337.8L1709.2 337.4L1711.1 337.9L1712.9 336.8L1714.4 337.8L1716.4 338.1L1717.9 337.2L1720.2 338.3L1722.1 338.4L1724.6 337.5L1726.8 337.3L1728.5 338.3L1730.9 337.3L1733 338.1L1735.3 337.1L1736.7 337.6L1738.8 338.5L1740.9 337.3L1743.1 337.8L1744.4 337.7L1746.4 337.2L1748.6 338.4L1750.8 337.1L1752.7 337.9L1754.6 336.9L1756.7 336.8L1758.5 337.1L1759.9 337.4L1761.9 338.1L1764.3 337.2L1765.8 337.7L1767.4 338.4L1769.4 337.1L1771.4 338.5L1772.9 337.8L1774.7 338.6L1777.2 337.7L1779.3 338.6L1781 337.8L1782.9 338L1784.8 338.2L1787.2 337.2L1788.7 337.9L1790.8 338.1L1792.5 337.9L1794.2 337.8L1795.7 338.3L1797.8 337.6L1800.2 338L1801.9 338.1L1804.5 337.9L1807 339.2L1809.4 337.3L1811.3 338.4L1813.4 337.5L1814.8 337.3L1816.4 339.3L1818.4 338.2L1820.5 337.4L1821.9 338.2L1824.2 337.9L1826.8 338.2L1829.2 338L1831 338.5L1832.6 339.1L1834.9 338.1L1837.2 337.8L1839 338.4L1841 337.1L1842.9 337.4L1843.4 338.2" fill="none" stroke="#00aaaa" stroke-width="2" stroke-linejoin="round"/>
<path d="M673.8 249.5L674.2 311.1L676.4 310.8L678.6 310.6L680.8 312.1L682.5 314.4L684 314.9L686.4 315L688.6 314.2L690.6 315.6L692 316.2L693.4 318L696 319.7L698.1 320.8L700.2 322.1L701.7 322.6L703.3 324L704.9 324.5L707.2 319.2L708.9 316.1L710.9 318.2L712.8 319.7L714.7 321.4L716.8 322.4L719.2 324.1L720.6 323.7L721.9 322.7L724.5 322.8L727 323.5L728.7 324.9L730.3 325.3L731.7 326.4L733.3 326.4L735.1 326.5L736.6 327L739.1 327.5L741.6 328.3L743.9 328L746.4 328.9L748.3 329.2L750.9 329.2L753.2 330.1L754.8 330.2L756.7 330.2L758.3 330.5L759.8 330.1L761.6 330.8L763.2 330.7L764.8 331L767 331.1L769.2 331.6L770.9 331.7L772.3 331.3L773.9 332.4L775.3 331.7L777.8 332.7L779.7 332.7L782.1 332.7L784.5 332.8L785.9 333L787.8 333.1L789.8 333.5L791.4 332.7L793.5 333.9L796.1 333.9L798.6 334.4L800.3 334.5L801.7 333.9L803.9 334.5L805.9 334.2L807.3 335.2L809.3 334.8L811.9 335.6L813.4 335.2L815.2 335.7L816.7 335.5L819.1 335.9L820.5 335.8L822.7 335.8L824.8 336.1L827.1 335.9L829.3 336.4L831.1 335.8L833 336.4L835.4 336L836.9 336.8L838.6 336.9L840.6 336.1L842.5 336.7L844.3 336.9L845.6 336.2L847 337.3L848.7 336.5L850.6 337.1L853.1 336.8L854.8 336.8L856.1 337.2L858.6 337.1L860.1 336.8L861.6 337.5L864 337.4L866.3 338L868.6 337.4L870.7 338.2L872.5 337.6L874 337.4L875.4 338.2L876.8 337.8L878.2 338.5L880.1 337.5L882.7 338.2L885.2 338L887.7 338.5L889.8 338.2L891.2 338.3L892.8 337.8L895.3 338.4L897.2 338.8L898.9 338.6L901 338.8L902.5 339.3L904.5 338.6L906.2 338.9L908.7 338.8L910.3 339.3L911.9 338.4L914.1 339L916.5 338.9L918.1 338.3L920.5 339.3L922.4 339.4L924.3 338.6L926.2 339.5L928.4 340L930.3 339.7L932 339.4L934.6 339.5L936.4 339.3L938.8 339.8L940.5 339.2L942.4 339.5L944.2 339.8L946.4 339.5L948.4 339.7L950.3 340.1L952.8 339.8L954.6 340L956.5 339.5L957.8 339.9L959.5 339.7L962 340.4L963.6 340.1L966.1 339.9L968.2 339.9L969.9 340L971.3 339.7L973.7 339.9L975.1 340.2L976.9 340L978.7 339.9L981 340.4L983 340L984.5 340.1L986.6 340L988.3 340.2L990.5 340.2L992.2 340.4L994.5 340.7L996.7 339.9L998.7 340.5L1000.6 340.3L1002.8 340.5L1004.8 339.8L1007.3 340L1008.6 340.5L1011.1 340.3L1012.5 340.4L1013.9 339.9L1015.9 340.5L1017.7 340.4L1020.1 340.6L1021.9 340.7L1024.1 340L1026.2 341.4L1028.2 341.2L1029.8 341L1031.3 341L1033.1 340.6L1035.2 340.8L1037.6 340.5L1039.5 341L1041.2 340.7L1042.7 341.2L1045 340.9L1046.5 341.3L1048.7 340.6L1050.4 341.5L1052.6 341L1054.6 341.5L1056.1 340.9L1058.3 341.3L1060 341.1L1062 341.3L1063.4 341L1064.8 341.5L1067.1 341.5L1069.5 341.2L1071.7 341.3L1074.2 341.1L1076.6 341.4L1078.4 341.2L1080.6 341.6L1081.9 340.8L1083.4 341.7L1084.7 340.8L1086.8 341.5L1089.3 341.7L1090.7 341.5L1092.9 342L1094.8 341.3L1097.1 341.8L1098.5 341.7L1100.1 342.3L1101.8 341.6L1104.3 342.1L1106.2 341.9L1108.2 341.6L1109.6 342.2L1110.9 341.7L1113 342.2L1114.9 342.4L1116.8 342.1L1118.6 342L1120.8 342.2L1123.3 341.9L1125.6 342.2L1127.5 342.1L1129 342.5L1130.6 342.1L1132.3 342.4L1134.7 341.5L1136.8 341.8L1138.1 342.5L1140.3 341.6L1142.7 342.7L1144.9 341.9L1147 342.6L1149.4 342.1L1150.9 342.3L1152.3 342.4L1154.8 342.3L1156.4 342.3L1157.8 342.1L1159.4 342.4L1161.9 342.1L1163.5 342.4L1165.8 342.5L1167.5 342.2L1169.2 342L1171.8 342.4L1174.2 342.3L1176.8 342.5L1178.7 342.1L1180.2 342.4L1182.7 342.3L1184.3 342.5L1186 342.1L1187.6 342.9L1189 342.2L1191.3 342.6L1192.8 342.4L1195.2 342.9L1197.1 342.6L1199.2 342.4L1201.7 342.6L1203.8 342.2L1205.5 342.7L1207.5 342.6L1209.9 342.4L1212.5 342.7L1214.5 342.3L1216.3 343.1L1218 342.5L1219.3 343.2L1221.3 342.4L1223.1 342.8L1225.1 342.6L1227.1 343.1L1228.4 342.6L1230.1 343.1L1232.4 342.2L1234.8 343L1237.3 342.3L1239 342.9L1240.3 342.9L1242.6 342.6L1244.5 343.2L1246.4 342.6L1248.5 342.9L1250.1 342.8L1252.3 341.9L1254.6 343.1L1257.1 342.7L1259.7 343L1262.3 343.2L1264.6 342.9L1265.9 343.1L1267.5 342.8L1269 342.1L1270.6 343L1272.4 343.3L1273.9 343.5L1275.3 342.9L1276.8 343.1L1278.7 343L1280.8 342.8L1283.2 343.1L1285.2 342.9L1287.1 343.1L1289.1 342.7L1290.7 343.7L1292.3 343L1293.7 343.1L1295.6 342.9L1298.1 343.3L1300.1 342.5L1302.6 343.5L1304.5 343L1306.1 343.3L1307.9 343.1L1310.3 343.4L1311.9 342.8L1314 343.4L1316.4 342.9L1317.9 343.2L1320.2 343L1322.1 343.1L1323.7 343.7L1325.7 342.5L1327.6 343.7L1329.7 342.8L1332.1 343.3L1334.3 343.2L1336.1 343.6L1338.4 342.5L1340.8 343.2L1343.4 342.8L1345.1 343.5L1346.7 343.1L1348 343.4L1349.9 343.5L1352.3 342.6L1354.2 343.6L1356.7 342.9L1358.9 343.5L1360.7 343.2L1362.7 343.8L1364.1 342.8L1366.4 343.6L1368.8 343.4L1370.6 343L1372.5 344.1L1374.2 343.1L1375.7 343.1L1378.3 343.8L1380.7 342.9L1382.4 343.5L1384.4 343L1386.6 343.5L1388.6 343.3L1390.1 343.2L1391.5 343.4L1394 343.4L1396.4 343.9L1397.7 343.2L1399.9 343.3L1402.1 343.7L1404.3 343.4L1406.6 343.9L1408.9 343.7L1410.3 343.5L1412.6 343.5L1414.5 343.5L1416.2 343.1L1417.9 343.9L1420.3 342.9L1421.9 343.8L1423.6 343.5L1426 344.2L1428 343.5L1429.4 344.2L1431.9 343.3L1433.4 343.7L1434.9 343.4L1436.3 343.8L1437.9 343.6L1439.6 343.4L1442.2 343.6L1443.9 343.5L1446.2 343.9L1447.6 343.6L1449.7 343.8L1452 343.4L1454.1 343.6L1456.3 343.3L1458 343.9L1460.1 343.4L1461.5 343.4L1463 342.9L1465 343.8L1466.5 343.4L1468.7 344.1L1471.1 343.4L1473 343.9L1474.7 343.4L1476.6 343.8L1478.5 343.5L1480.1 343.9L1481.5 343.2L1483.4 344.8L1484.8 343.2L1487 343.8L1488.8 343.6L1491.1 343.8L1492.7 343.4L1494.2 343.8L1496.1 343.8L1498.2 343.6L1499.8 343.8L1501.9 343.8L1504.1 343.9L1505.7 343.7L1507.8 344.3L1509.8 343.6L1511.8 344.1L1513.9 343.9L1515.3 343.1L1516.7 343.6L1518.6 344.1L1520.8 343.7L1523.2 344.2L1525.1 343.6L1526.6 344L1528 343.3L1529.9 343.9L1532.3 343.8L1534 344.3L1535.4 343.7L1537.2 344L1539.3 344.2L1541.7 343.5L1543.4 343.4L1545 343.9L1547.1 343.8L1548.8 344L1551.1 343.7L1552.6 344.1L1555.1 343.9L1557.3 344.1L1559.3 343.6L1561.8 344L1564.1 343.8L1565.7 343.9L1567.3 343.5L1569.8 344.3L1572.1 343.5L1574.1 344.4L1576 343.7L1577.4 344L1579 343.8L1581.2 344.3L1583 343.5L1585 344L1587 344.2L1589.4 343.7L1591 343.8L1592.4 344.2L1594.7 343.9L1596.5 344L1598.6 343.6L1601.2 344.1L1602.6 343.3L1604.1 344.1L1606.6 343.6L1609.1 344.5L1610.4 343.8L1611.9 344L1613.2 344.2L1614.8 344.7L1616.9 343.6L1619 344L1621.3 343.8L1622.9 344.1L1625.4 344L1627.4 343.4L1629.9 344L1631.3 343.7L1633.2 344.1L1635.8 344.3L1637.3 344.1L1639.7 343.7L1642.2 344.2L1644.4 344L1646.3 344.2L1648.9 343.7L1650.9 344.1L1653 343.6L1654.4 344.4L1656.5 343.9L1658.5 344.2L1660 344.6L1662.6 344.3L1664 344L1666.1 344.1L1668.5 344.1L1670.6 343.7L1673 344.2L1675.6 344.1L1677.1 344.1L1678.8 344.2L1680.8 343.9L1682.7 344.2L1685.1 343.9L1687.4 344.6L1689.3 344.2L1691.2 344.1L1693.4 344.3L1695.9 343.7L1698.1 344.6L1699.7 344L1701 344.4L1703.1 344.1L1705.2 344.1L1706.9 343.8L1709.1 343.9L1711.6 344.3L1713.3 344.1L1715.2 344.5L1716.9 343.6L1718.9 344L1720.8 344.3L1722.6 343.9L1724.1 344.3L1726.1 344L1727.6 343.5L1729.7 344.3L1732 344L1733.9 343.9L1736.1 344L1738.1 344.3L1740.4 344.1L1741.9 344.4L1743.7 343.5L1746.3 344.5L1748.7 344.1L1750.7 344.8L1752.2 343.6L1753.6 343.8L1755.6 344.2L1757.6 344.1L1759.9 344.3L1761.3 344.1L1762.8 344.2L1765.1 344.1L1767.6 344.7L1769.7 343.6L1771.6 344.3L1773.9 344.2L1776.5 344.4L1777.9 344L1780.3 344.4L1782.8 343.7L1784.9 344.5L1786.6 344L1788.2 344.4L1790.4 343.8L1792.5 344.7L1794.7 344.1L1796.7 344.4L1799.3 344.1L1801 344.4L1803.1 344.6L1805.3 344.9L1807.6 343.9L1809.9 344.5L1811.4 344.2L1813.8 344.4L1816.3 344.3L1817.8 344.1L1820.4 344.4L1822.8 343.9L1825 344.4L1826.5 344.2L1828 344.3L1829.9 344.5L1831.4 344.3L1833.3 344.4L1835.3 344.2L1837.4 344.3L1839 344L1840.6 344.3L1842.4 344.4L1843.4 344.3" fill="none" stroke="#00ff80" stroke-width="2" stroke-linejoin="round"/>
<g font-family="Liberation Sans, Arial, Helvetica, sans-serif" style="font-kerning:none">
<text transform="translate(122.00 373.40) scale(1 1.055)" font-size="27.3" fill="#262626" text-anchor="end">0</text>
<text transform="translate(122.00 289.70) scale(1 1.055)" font-size="27.3" fill="#262626" text-anchor="end">100</text>
<text transform="translate(122.00 206.00) scale(1 1.055)" font-size="27.3" fill="#262626" text-anchor="end">200</text>
<text transform="translate(122.00 122.30) scale(1 1.055)" font-size="27.3" fill="#262626" text-anchor="end">300</text>
<text transform="translate(122.00 38.60) scale(1 1.055)" font-size="27.3" fill="#262626" text-anchor="end">400</text>
<text transform="translate(131.00 397.80) scale(1 1.055)" font-size="27.3" fill="#262626" text-anchor="middle">1980</text>
<text transform="translate(416.50 397.80) scale(1 1.055)" font-size="27.3" fill="#262626" text-anchor="middle">2000</text>
<text transform="translate(702.00 397.80) scale(1 1.055)" font-size="27.3" fill="#262626" text-anchor="middle">2020</text>
<text transform="translate(987.50 397.80) scale(1 1.055)" font-size="27.3" fill="#262626" text-anchor="middle">2040</text>
<text transform="translate(1273.00 397.80) scale(1 1.055)" font-size="27.3" fill="#262626" text-anchor="middle">2060</text>
<text transform="translate(1558.50 397.80) scale(1 1.055)" font-size="27.3" fill="#262626" text-anchor="middle">2080</text>
<text transform="translate(1844.00 397.80) scale(1 1.055)" font-size="27.3" fill="#262626" text-anchor="middle">2100</text>
<text transform="translate(987.30 432.00) scale(1 1.03)" font-size="30.3" fill="#262626" text-anchor="middle">Year</text>
<text transform="translate(66.40 195.50) rotate(-90) scale(1 1.03)" font-size="30.3" fill="#262626" text-anchor="middle">Calving Flux (Gt/yr)</text>
<text transform="translate(26.50 36.60)" font-size="25" fill="#000" font-weight="bold">(a)</text>
<path d="M1481.5 56.0H1523" stroke="#0055d4" stroke-width="2"/>
<text transform="translate(1526.00 65.20) scale(1 1.03)" font-size="24.7" fill="#000">Stress = 436.80 kPa</text>
<path d="M1481.5 85.8H1523" stroke="#00aaaa" stroke-width="2"/>
<text transform="translate(1526.00 95.00) scale(1 1.03)" font-size="24.7" fill="#000">Stress = 494.00 kPa</text>
<path d="M1481.5 115.6H1523" stroke="#00ff80" stroke-width="2"/>
<text transform="translate(1526.00 124.80) scale(1 1.03)" font-size="24.7" fill="#000">Stress = 572.00 kPa</text>
<path d="M1481.5 145.4H1523" stroke="#0000ff" stroke-width="3"/>
<text transform="translate(1526.00 154.60) scale(1 1.03)" font-size="24.7" fill="#000">Stress = 260.00 kPa (Base)</text>
</g>
<g stroke="#262626" stroke-width="1" fill="none">
<path d="M131 834.5V499.5"/>
<path d="M131 834.5H1844"/>
<path d="M131 834H148.5"/>
<path d="M131 779H148.5"/>
<path d="M131 723H148.5"/>
<path d="M131 667H148.5"/>
<path d="M131 612H148.5"/>
<path d="M131 556H148.5"/>
<path d="M131 500H148.5"/>
</g>
<path d="M131 834.5L131 756.3L153.6 755.9L176.2 750.9L198.8 752L221.5 749.2L244.1 750.9L266.7 752.4L289.3 751.6L311.9 749.8L334.5 750.3L357.1 745.5L379.8 746L402.4 745.5L424 744.5L446.6 742.4L469.1 742.4L491.6 741.8L514.2 743.9L536.7 748.4L559.3 755.4L581.8 761.4L604.3 768L626.9 765.9L649.4 770.1L672 759L694.5 769.5L717 776.5L739.4 777.2L762 776L783.5 773.9L805 748.1L827.6 757.8L861 798.7L872.9 803L895.5 775L919.1 743.8L941.5 743.5L964.1 754L986.7 769.7L1009 767.6L1031.6 754L1054.5 754.7L1076.8 752.5L1099.4 742L1122 738.1L1144.7 746.5L1166.8 760.6L1188.8 778.4L1211.4 791.3L1245.3 802.6L1256.6 804.2L1279.2 801.7L1301.8 804.2L1324.4 796.2L1347 786.5L1369.6 785.5L1392 788.9L1414.4 802.4L1437.4 791.7L1460.5 789.3L1482.9 802.4L1504.9 798.8L1528 796L1551 792.4L1572.3 790L1594.4 791L1617 778.4L1638.4 784.1L1660.4 768.9L1683.5 774.2L1705.9 780.2L1727.9 776L1751 766.4L1773 774.2L1795.4 766.4L1817.4 760L1844.4 765.3L1844.4 834.5Z" fill="#585b5e" stroke="#202020" stroke-width="0.8"/>
<path d="M131 834.5H1844.4" stroke="#303030" stroke-width="1.2"/>
<path d="M131.2 667.5H1844" stroke="#1c76c2" stroke-width="1.5" stroke-dasharray="10.6 6.5"/>
<path d="M1844.4 514.2L1817.4 513.1L1795.4 517.4L1773 518.4L1751 520.2L1727.9 525.5L1705.9 523.7L1683.5 523.7L1660.4 527.3L1638.4 533.3L1617 535.5L1594.4 543.2L1572.3 542.5L1551 547.5L1528 552.1L1504.9 560.3L1482.9 565.3L1460.5 562.8L1437.4 575.2L1414.4 583L1392 584.1L1369.6 589.4L1347 600.7L1324.4 613.7L1301.8 622.7L1279.2 626.6L1245.3 637.9L1211.4 644.4L1211.4 791.3" fill="none" stroke="#0000ff" stroke-width="3.5" stroke-linejoin="round"/>
<path d="M1211.4 791.3L1245.3 802.6L1256.6 804.2L1279.2 801.7L1301.8 804.2L1324.4 796.2L1347 786.5L1369.6 785.5L1392 788.9L1414.4 802.4L1437.4 791.7L1460.5 789.3L1482.9 802.4L1504.9 798.8L1528 796L1551 792.4L1572.3 790L1594.4 791L1617 778.4L1638.4 784.1L1660.4 768.9L1683.5 774.2L1705.9 780.2L1727.9 776L1751 766.4L1773 774.2L1795.4 766.4L1817.4 760L1844.4 765.3" fill="none" stroke="#0000ff" stroke-width="3.5" stroke-linejoin="round"/>
<path d="M1844.4 513.1L1817.4 512L1795.4 516.6L1773 517.7L1751 519.1L1727.9 523.7L1705.9 522.7L1683.5 522L1660.4 524.8L1638.4 529.1L1617 530.9L1594.4 539.7L1572.3 539.7L1551 543.2L1528 546.8L1504.9 553.2L1482.9 558.2L1460.5 554.6L1437.4 566.3L1414.4 571.6L1392 571.6L1369.6 574.9L1347 584.6L1324.4 595.9L1301.8 602.4L1279.2 605.6L1245.3 615.3L1211.4 622.7L1189 629L1166.8 635.6L1166.8 760.6" fill="none" stroke="#0055d4" stroke-width="2.2" stroke-linejoin="round"/>
<path d="M1166.8 760.6L1188.8 778.4L1211.4 791.3L1245.3 802.6L1256.6 804.2L1279.2 801.7L1301.8 804.2L1324.4 796.2L1347 786.5L1369.6 785.5L1392 788.9L1414.4 802.4L1437.4 791.7L1460.5 789.3L1482.9 802.4L1504.9 798.8L1528 796L1551 792.4L1572.3 790L1594.4 791L1617 778.4L1638.4 784.1L1660.4 768.9L1683.5 774.2L1705.9 780.2L1727.9 776L1751 766.4L1773 774.2L1795.4 766.4L1817.4 760L1844.4 765.3" fill="none" stroke="#0055d4" stroke-width="2.2" stroke-linejoin="round"/>
<path d="M1844.4 511.3L1817.4 510.6L1795.4 513.1L1773 514.2L1751 515.6L1727.9 519.1L1705.9 518.4L1683.5 517.7L1660.4 521.3L1638.4 525.5L1617 527.3L1594.4 532.6L1572.3 530.8L1551 534.4L1528 536.1L1504.9 541.5L1482.9 545L1460.5 540.4L1437.4 549.6L1414.4 552.8L1392 550.3L1369.6 552.3L1347 558.8L1324.4 566.8L1301.8 571L1279.2 571.7L1245.3 576.5L1211.4 578.8L1189 581L1166.8 585L1144.7 590.3L1122 598.8L1099.4 609.3L1076.8 619.9L1054.5 622L1031.6 629.5L1009 638L986.7 636.5L964.1 634.1L941.5 637.1L919.1 647.4L896.5 657L873.5 656.2L873.5 761L896.5 753.5L919.1 743.8L941.5 743.5L964.1 754L986.7 769.7L1009 767.6L1031.6 754L1054.5 754.7L1076.8 752.5L1099.4 742L1122 738.1L1144.7 746.5L1166.8 760.6L1188.8 778.4L1211.4 791.3L1245.3 802.6L1256.6 804.2L1279.2 801.7L1301.8 804.2L1324.4 796.2L1347 786.5L1369.6 785.5L1392 788.9L1414.4 802.4L1437.4 791.7L1460.5 789.3L1482.9 802.4L1504.9 798.8L1528 796L1551 792.4L1572.3 790L1594.4 791L1617 778.4L1638.4 784.1L1660.4 768.9L1683.5 774.2L1705.9 780.2L1727.9 776L1751 766.4L1773 774.2L1795.4 766.4L1817.4 760L1844.4 765.3" fill="none" stroke="#00aaaa" stroke-width="2.2" stroke-linejoin="round"/>
<path d="M1844.4 509.5L1817.4 507.8L1795.4 512L1773 513.1L1751 514.2L1727.9 516.6L1705.9 516.6L1683.5 515.6L1660.4 520.2L1638.4 524.5L1617 524.8L1594.4 530.8L1572.3 529L1551 532.6L1528 534.4L1504.9 539L1482.9 542.5L1460.5 536.1L1437.4 545L1414.4 547.9L1392 545.7L1369.6 547.5L1347 551.7L1324.4 558.1L1301.8 562.6L1279.2 563.6L1245.3 567.8L1211.4 570.1L1189 571.5L1166.8 574L1144.7 577.7L1122 585.2L1099.4 594.3L1076.8 603.3L1054.5 604.2L1031.6 610.8L1009 618.4L986.7 616.9L964.1 614.8L941.5 619.9L919.1 631.8L896.5 651.2L863.2 652.3L828.7 635.1L783.5 659.8L738.3 666.3L738.3 668.4L762 696.4L783.5 730.9L805 747L827.6 757.3L850 783L862.1 794.4L873.9 791.2L892.2 777.2L919.1 743.8L941.5 743.5L964.1 754L986.7 769.7L1009 767.6L1031.6 754L1054.5 754.7L1076.8 752.5L1099.4 742L1122 738.1L1144.7 746.5L1166.8 760.6L1188.8 778.4L1211.4 791.3L1245.3 802.6L1256.6 804.2L1279.2 801.7L1301.8 804.2L1324.4 796.2L1347 786.5L1369.6 785.5L1392 788.9L1414.4 802.4L1437.4 791.7L1460.5 789.3L1482.9 802.4L1504.9 798.8L1528 796L1551 792.4L1572.3 790L1594.4 791L1617 778.4L1638.4 784.1L1660.4 768.9L1683.5 774.2L1705.9 780.2L1727.9 776L1751 766.4L1773 774.2L1795.4 766.4L1817.4 760L1844.4 765.3" fill="none" stroke="#00ff80" stroke-width="2.4" stroke-linejoin="round"/>
<path d="M1844.4 765.3L1817.4 760L1795.4 766.4L1773 774.2L1751 766.4L1727.9 776L1705.9 780.2L1683.5 774.2L1660.4 768.9L1638.4 784.1L1617 778.4L1594.4 791L1572.3 790L1551 792.4L1528 796L1504.9 798.8L1482.9 802.4L1460.5 789.3L1437.4 791.7L1414.4 802.4L1392 788.9L1369.6 785.5L1347 786.5L1324.4 796.2L1301.8 804.2L1279.2 801.7L1256.6 804.2L1245.3 802.6L1211.4 791.3L1188.8 778.4L1166.8 760.6L1144.7 746.5L1122 738.1L1099.4 742L1076.8 752.5L1054.5 754.7L1031.6 754L1009 767.6L986.7 769.7L964.1 754L941.5 743.5L919.1 743.8L895.5 775L872.9 803L861 798.7L827.6 757.8L805 748.1L783.5 773.9L762 776L739.4 777.2L717 776.5L694.5 769.5L672 759L649.4 770.1L626.9 765.9L604.3 768L581.8 761.4L559.3 755.4L536.7 748.4L514.2 743.9L491.6 741.8L469.1 742.4L446.6 742.4L424 744.5L402.4 745.5L379.8 746L357.1 745.5L334.5 750.3L311.9 749.8L289.3 751.6L266.7 743.4L244.1 694.9L221.5 702.5L198.8 698.2L176.2 708.9L176.2 662L198.8 662.6L221.5 663.3L244.1 664.1L266.7 658.3L289.3 656.8L311.9 656.2L334.5 655.5L357.1 655.5L379.8 656.8L402.4 654.6L424 654.1L446.6 652.6L469.1 651L491.6 645.9L514.2 641.4L536.7 639L559.3 636.9L581.8 633.9L604.3 632.4L626.9 631.8L649.4 633L672 624.8L694.5 613.7L717 614.3L739.4 615.2L762 611.3L783.5 606.7L805 593.2L827.6 589.2L850 589.5L872.9 592.6L895.5 592.3L919.1 583.5L941.5 578.3L964.1 574.7L986.7 575.3L1009 574.7L1031.6 570.8L1054.5 570.1L1076.8 568.6L1099.4 561.7L1122 557.5L1144.7 553.6L1166.8 550.5L1211.4 548.4L1245.3 548.4L1279.2 547.5L1301.8 546.8L1324.4 545.8L1347 543.3L1369.6 540.5L1392 538.6L1414.4 537.2L1437.4 535.1L1460.5 531.9L1482.9 529.8L1504.9 528.3L1528 525.5L1551 523.7L1572.3 521.9L1594.4 520.9L1617 520.2L1638.4 519.1L1660.4 517.7L1683.5 516.6L1705.9 515.9L1727.9 515.6L1751 513.8L1773 513.4L1795.4 513.1L1817.4 511.3L1844.4 511.3" stroke="#000" stroke-width="4" fill="none" stroke-dasharray="12.6 3.5 6.3 3.5" stroke-linejoin="round"/>
<g font-family="Liberation Sans, Arial, Helvetica, sans-serif" style="font-kerning:none">
<text transform="translate(122.00 844.60) scale(1 1.055)" font-size="27.3" fill="#262626" text-anchor="end">-1500</text>
<text transform="translate(122.00 788.85) scale(1 1.055)" font-size="27.3" fill="#262626" text-anchor="end">-1000</text>
<text transform="translate(122.00 733.10) scale(1 1.055)" font-size="27.3" fill="#262626" text-anchor="end">-500</text>
<text transform="translate(122.00 677.35) scale(1 1.055)" font-size="27.3" fill="#262626" text-anchor="end">0</text>
<text transform="translate(122.00 621.60) scale(1 1.055)" font-size="27.3" fill="#262626" text-anchor="end">500</text>
<text transform="translate(122.00 565.85) scale(1 1.055)" font-size="27.3" fill="#262626" text-anchor="end">1000</text>
<text transform="translate(122.00 510.10) scale(1 1.055)" font-size="27.3" fill="#262626" text-anchor="end">1500</text>
<text transform="translate(221.12 868.90) scale(1 1.055)" font-size="27.3" fill="#262626" text-anchor="middle">10</text>
<text transform="translate(446.42 868.90) scale(1 1.055)" font-size="27.3" fill="#262626" text-anchor="middle">20</text>
<text transform="translate(671.72 868.90) scale(1 1.055)" font-size="27.3" fill="#262626" text-anchor="middle">30</text>
<text transform="translate(897.02 868.90) scale(1 1.055)" font-size="27.3" fill="#262626" text-anchor="middle">40</text>
<text transform="translate(1122.32 868.90) scale(1 1.055)" font-size="27.3" fill="#262626" text-anchor="middle">50</text>
<text transform="translate(1347.62 868.90) scale(1 1.055)" font-size="27.3" fill="#262626" text-anchor="middle">60</text>
<text transform="translate(1572.92 868.90) scale(1 1.055)" font-size="27.3" fill="#262626" text-anchor="middle">70</text>
<text transform="translate(1798.22 868.90) scale(1 1.055)" font-size="27.3" fill="#262626" text-anchor="middle">80</text>
<text transform="translate(988.20 903.30) scale(1 1.03)" font-size="30.3" fill="#262626" text-anchor="middle">Distance Along Flowline (km)</text>
<text transform="translate(41.70 667.25) rotate(-90) scale(1 1.03)" font-size="30.3" fill="#262626" text-anchor="middle">Depth (m)</text>
<text transform="translate(24.50 492.60)" font-size="25" fill="#000" font-weight="bold">(b)</text>
</g>
</svg>
</body></html>
